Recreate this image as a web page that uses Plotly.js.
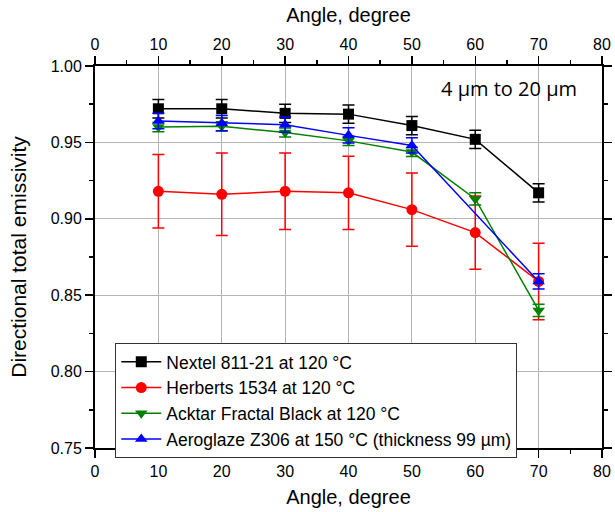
<!DOCTYPE html>
<html>
<head>
<meta charset="utf-8">
<script src="https://cdn.plot.ly/plotly-3.0.1.min.js"></script>
<style>html,body{margin:0;padding:0;background:#fff}#chart{width:615px;height:512px}</style>
</head>
<body>
<div id="chart"></div>
<script>
const angles = [10, 20, 30, 40, 50, 60, 70];
const anglesAero = [10, 20, 30, 40, 50, 70];

const nextelNames = "Nextel 811-21 at 120 °C";
const nextelVals = [0.972, 0.972, 0.969, 0.9685, 0.961, 0.952, 0.917];
const nextelErr = [0.006, 0.006, 0.006, 0.006, 0.006, 0.006, 0.006];

const herbertsName = "Herberts 1534 at 120 °C";
const herbertsVals = [0.918, 0.916, 0.918, 0.917, 0.906, 0.891, 0.859];
const herbertsErr = [0.024, 0.027, 0.025, 0.024, 0.024, 0.024, 0.025];

const acktarName = "Acktar Fractal Black at 120 °C";
const acktarVals = [0.960, 0.9605, 0.9565, 0.951, 0.9437, 0.913, 0.840];
const acktarErr = [0.003, 0.003, 0.003, 0.003, 0.003, 0.004, 0.004];

const aeroName = "Aeroglaze Z306 at 150 °C (thickness 99 µm)";
const aeroVals = [0.964, 0.9626, 0.9616, 0.9546, 0.948, 0.859];
const aeroErr = [0.005, 0.005, 0.005, 0.005, 0.005, 0.005];

const xTicks = [0, 10, 20, 30, 40, 50, 60, 70, 80];
const yTicks = [0.75, 0.80, 0.85, 0.90, 0.95, 1.00];

function tr(name, x, y, e, color, symbol) {
  return {
    type: 'scatter', mode: 'lines+markers', name: name, x: x, y: y,
    line: {color: color, width: 1.5},
    marker: {color: color, symbol: symbol, size: 11},
    error_y: {type: 'data', array: e, visible: true, color: color, thickness: 1.5, width: 6}
  };
}

const data = [
  tr(nextelNames, angles, nextelVals, nextelErr, '#000000', 'square'),
  tr(herbertsName, angles, herbertsVals, herbertsErr, '#ff0000', 'circle'),
  tr(acktarName, angles, acktarVals, acktarErr, '#008000', 'triangle-down'),
  tr(aeroName, anglesAero, aeroVals, aeroErr, '#0000ff', 'triangle-up'),
  {type: 'scatter', x: [0, 80], y: [null, null], xaxis: 'x2', yaxis: 'y', showlegend: false, hoverinfo: 'skip', mode: 'lines'}
];

const arial = 'Liberation Sans, Arial, sans-serif';
const tickFont = {family: arial, size: 16, color: '#000'};
const axisCommon = {
  showline: true, linecolor: '#000', linewidth: 2,
  ticks: 'outside', ticklen: 8, tickwidth: 1.5, tickcolor: '#000',
  tickfont: tickFont, zeroline: false
};

const layout = {
  width: 615, height: 512,
  margin: {l: 95, r: 13, t: 66, b: 64},
  paper_bgcolor: '#fff', plot_bgcolor: '#fff',
  showlegend: true,
  legend: {
    x: 0.04, y: 0.275, xanchor: 'left', yanchor: 'top',
    bordercolor: '#333', borderwidth: 1, bgcolor: '#fff',
    font: {family: arial, size: 17.5, color: '#000'},
    tracegroupgap: 0, itemwidth: 40
  },
  xaxis: Object.assign({}, axisCommon, {
    range: [0, 80], tickvals: xTicks, ticktext: xTicks.map(String),
    showgrid: true, gridcolor: '#b4b4b4', gridwidth: 1,
    minor: {ticks: 'outside', ticklen: 4, tickwidth: 1.5, tickcolor: '#000', dtick: 5, showgrid: false},
    title: {text: 'Angle, degree', font: {family: arial, size: 20, color: '#000'}, standoff: 11}
  }),
  xaxis2: Object.assign({}, axisCommon, {
    range: [0, 80], tickvals: xTicks, ticktext: xTicks.map(String),
    overlaying: 'x', side: 'top', anchor: 'y', showgrid: false,
    minor: {ticks: 'outside', ticklen: 4, tickwidth: 1.5, tickcolor: '#000', dtick: 5, showgrid: false},
    title: {text: 'Angle, degree', font: {family: arial, size: 20, color: '#000'}, standoff: 8}
  }),
  yaxis: Object.assign({}, axisCommon, {
    range: [0.75, 1.00], tickvals: yTicks, ticktext: yTicks.map(v => v.toFixed(2)),
    showgrid: true, gridcolor: '#b4b4b4', gridwidth: 1, mirror: 'ticks',
    minor: {ticks: 'outside', ticklen: 4, tickwidth: 1.5, tickcolor: '#000', dtick: 0.025, showgrid: false},
    title: {text: 'Directional total emissivity', font: {family: arial, size: 21, color: '#000'}, standoff: 18}
  }),
  annotations: [{
    text: '4 µm to 20 µm', xref: 'paper', yref: 'paper', x: 0.955, y: 0.94,
    xanchor: 'right', yanchor: 'middle', showarrow: false,
    font: {family: 'Open Sans, sans-serif', size: 20, color: '#000'}
  }]
};

Plotly.newPlot('chart', data, layout, {displayModeBar: false, staticPlot: true});
</script>
</body>
</html>
